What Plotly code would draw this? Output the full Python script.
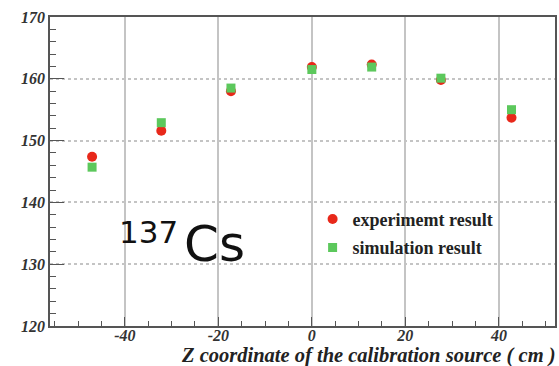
import plotly.graph_objects as go

z_pos = [-47.0, -32.2, -17.3, 0.0, 12.8, 27.6, 42.7]
experiment = [147.4, 151.6, 158.0, 161.9, 162.3, 159.8, 153.7]
simulation = [145.7, 152.9, 158.5, 161.5, 161.9, 160.1, 155.0]
x_ticks = [-40, -20, 0, 20, 40]
y_ticks = [120, 130, 140, 150, 160, 170]

RED = "#e8281a"
GREEN = "#5cc85c"
tickfont = dict(family="Liberation Serif", size=16, color="#333333", weight="bold", style="italic")

fig = go.Figure()
fig.add_trace(go.Scatter(x=z_pos, y=experiment, mode="markers", name="experimemt result",
                         legendgroup="a",
                         marker=dict(symbol="circle", size=10, color=RED, line=dict(width=0))))
fig.add_trace(go.Scatter(x=z_pos, y=simulation, mode="markers", name="simulation result",
                         legendgroup="b",
                         marker=dict(symbol="square", size=9, color=GREEN, line=dict(width=0))))

fig.update_layout(
    width=559, height=366,
    margin=dict(l=50, r=2, t=17, b=40),
    paper_bgcolor="white", plot_bgcolor="white",
    showlegend=True,
    legend=dict(x=0.52, y=0.405, xanchor="left", yanchor="top",
                bgcolor="rgba(0,0,0,0)", tracegroupgap=2,
                font=dict(family="Liberation Serif", size=18, color="#222222", weight="bold")),
    xaxis=dict(range=[-56, 52], tickvals=x_ticks, ticktext=[str(v) for v in x_ticks],
               showgrid=True, gridcolor="#c4c4c4", gridwidth=1.5,
               ticks="inside", ticklen=9, tickcolor="#555555", tickwidth=1.2,
               ticklabelstandoff=-6,
               minor=dict(dtick=5, ticks="inside", ticklen=5, tickcolor="#555555", showgrid=False),
               showline=True, linecolor="#555555", linewidth=1.5, mirror=True,
               zeroline=False, tickfont=tickfont),
    yaxis=dict(range=[120, 170], tickvals=y_ticks, ticktext=[str(v) for v in y_ticks],
               showgrid=True, gridcolor="#c4c4c4", gridwidth=1.5, griddash="dot",
               ticks="inside", ticklen=14, tickcolor="#555555", tickwidth=1.2,
               minor=dict(dtick=2, ticks="inside", ticklen=6, tickcolor="#555555", showgrid=False),
               showline=True, linecolor="#555555", linewidth=1.5, mirror=True,
               zeroline=False, tickfont=tickfont),
)

fig.add_annotation(text="Z coordinate of the calibration source ( cm )", xref="paper", yref="paper",
                   x=1.006, y=-0.097, xanchor="right", yanchor="middle", showarrow=False,
                   font=dict(family="Liberation Serif", size=20.5, color="#222222", weight="bold", style="italic"))
fig.add_annotation(text="137", xref="paper", yref="paper", x=0.133, y=0.303,
                   xanchor="left", yanchor="middle", showarrow=False,
                   font=dict(family="DejaVu Sans", size=31, color="#111111"))
fig.add_annotation(text="Cs", xref="paper", yref="paper", x=0.262, y=0.265,
                   xanchor="left", yanchor="middle", showarrow=False,
                   font=dict(family="DejaVu Sans", size=50, color="#111111"))

fig.write_html("out.html", config={"displayModeBar": False},
               post_script="document.body.style.margin='0';")
